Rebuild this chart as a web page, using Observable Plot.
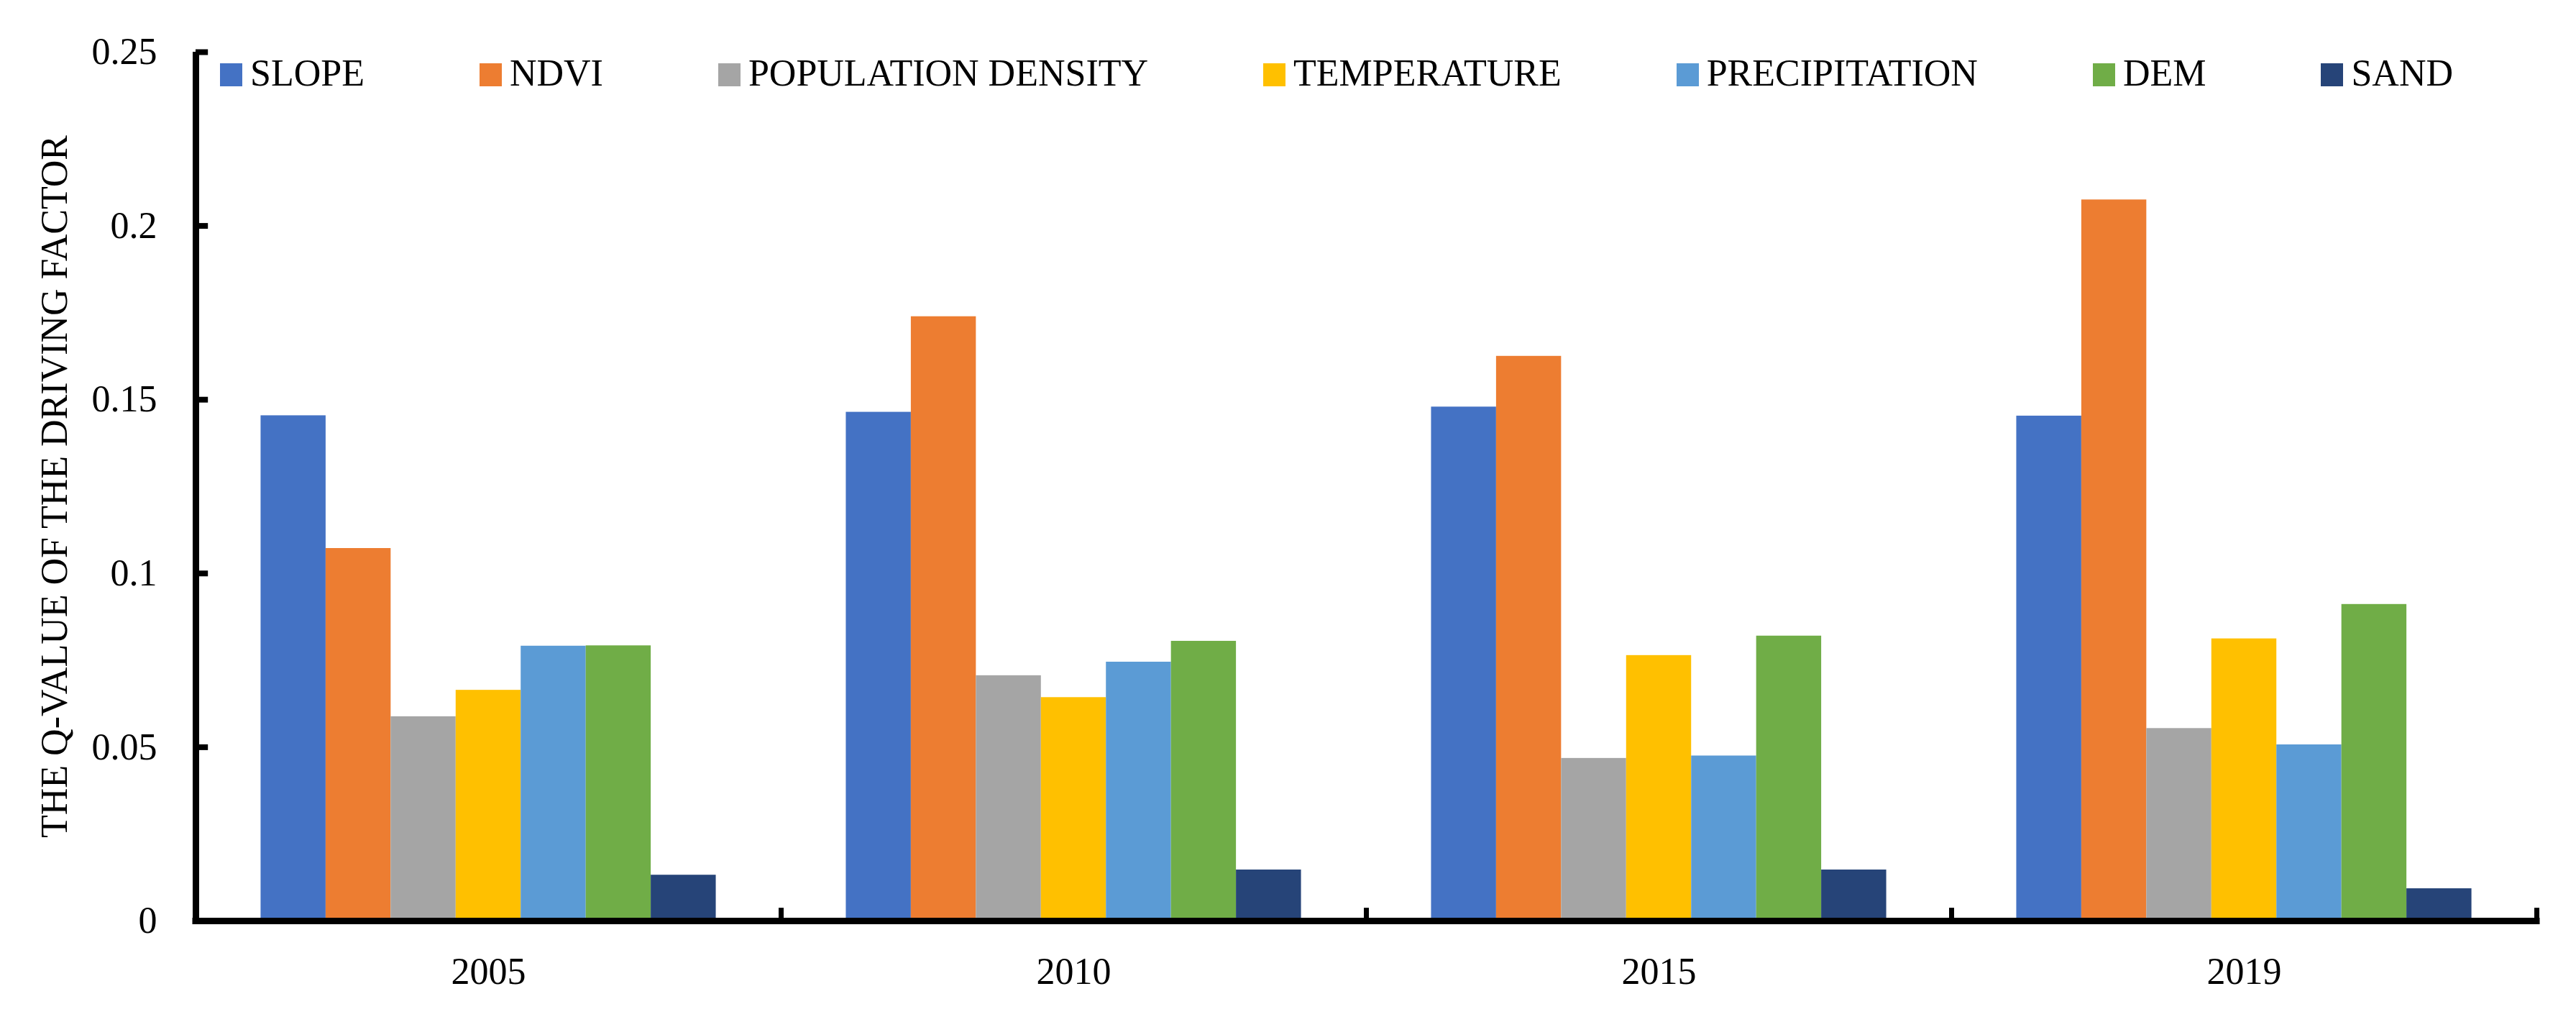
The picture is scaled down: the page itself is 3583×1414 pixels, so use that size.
<!DOCTYPE html>
<html>
<head>
<meta charset="utf-8">
<script src="https://cdn.jsdelivr.net/npm/d3@7"></script>
<script src="https://cdn.jsdelivr.net/npm/@observablehq/plot@0.6"></script>
<style>
  html, body { margin: 0; padding: 0; background: #fff; overflow: hidden; }
  #wrap { position: relative; width: 3583px; height: 1414px; }
  #legend {
    position: absolute; left: 306px; top: 76px;
    display: flex; align-items: center;
    font-family: "Liberation Serif", "Times New Roman", serif;
    font-size: 52px; line-height: 52px; color: #000; white-space: nowrap;
  }
  .item { display: flex; align-items: center; margin-right: 160px; }
  .item:last-child { margin-right: 0; }
  .sw { width: 31px; height: 32px; margin-right: 11px; position: relative; top: 2px; }
</style>
</head>
<body>
<div id="wrap"><div id="legend"></div></div>
<script>
const years = ["2005", "2010", "2015", "2019"];
const factors = ["SLOPE", "NDVI", "POPULATION DENSITY", "TEMPERATURE", "PRECIPITATION", "DEM", "SAND"];
const colors = ["#4472C4", "#ED7D31", "#A5A5A5", "#FFC000", "#5B9BD5", "#70AD47", "#264478"];

const slope         = [0.1454, 0.1464, 0.1479, 0.1453];
const ndvi          = [0.1072, 0.1739, 0.1625, 0.2075];
const popDensity    = [0.0588, 0.0706, 0.0468, 0.0554];
const temperature   = [0.0664, 0.0643, 0.0764, 0.0812];
const precipitation = [0.0791, 0.0745, 0.0475, 0.0507];
const dem           = [0.0792, 0.0805, 0.0820, 0.0911];
const sand          = [0.0132, 0.0147, 0.0147, 0.0093];

const yTicks = [0, 0.05, 0.1, 0.15, 0.2, 0.25];
const yLabel = "THE Q-VALUE OF THE DRIVING FACTOR";

const series = [slope, ndvi, popDensity, temperature, precipitation, dem, sand];
const rows = [];
years.forEach((year, yi) => {
  factors.forEach((factor, fi) => {
    rows.push({year, factor, index: fi, value: series[fi][yi]});
  });
});

// each year group is divided into (factors + 2) slots: one empty slot either side
const slots = factors.length + 2;
const font = "Liberation Serif";

const chart = Plot.plot({
  width: 3583,
  height: 1414,
  marginLeft: 272,
  marginRight: 55,
  marginTop: 72,
  marginBottom: 134,
  style: {fontFamily: font, color: "#000", background: "#fff"},
  fx: {domain: years, padding: 0, label: null},
  x: {domain: [0, slots], axis: null},
  y: {domain: [0, 0.25], axis: null},
  color: {domain: factors, range: colors},
  marks: [
    Plot.rect(rows, {
      fx: "year",
      x1: d => d.index + 1,
      x2: d => d.index + 2,
      y1: 0,
      y2: "value",
      fill: "factor"
    }),
    // baseline (x axis line)
    Plot.ruleY([0], {stroke: "#000", strokeWidth: 9, strokeLinecap: "square"}),
    // category boundary ticks
    Plot.ruleX([0], {y1: 0, y2: 0.0037, stroke: "#000", strokeWidth: 7}),
    Plot.ruleX([slots], {fx: () => years[years.length - 1], y1: 0, y2: 0.0037, stroke: "#000", strokeWidth: 7}),
    // y axis line and inward ticks
    Plot.ruleX([0], {fx: () => years[0], y1: 0, y2: yTicks[yTicks.length - 1], stroke: "#000", strokeWidth: 9}),
    Plot.ruleY(yTicks, {fx: () => years[0], y: d => d, x1: 0, x2: 0.19, stroke: "#000", strokeWidth: 8}),
    Plot.axisY({
      ticks: yTicks,
      tickSize: 0,
      tickPadding: 54,
      fontSize: 52,
      tickFormat: d => String(d),
      label: yLabel,
      labelAnchor: "center",
      labelOffset: 216,
      labelArrow: false
    }),
    Plot.axisFx({
      anchor: "bottom",
      tickSize: 0,
      tickPadding: 51,
      fontSize: 52,
      label: null
    })
  ]
});

document.getElementById("wrap").prepend(chart);
chart.style.position = "absolute";
chart.style.left = "0";
chart.style.top = "0";

const legend = document.getElementById("legend");
const cs = chart.scale("color");
cs.domain.forEach((name, i) => {
  const item = document.createElement("div");
  item.className = "item";
  const sw = document.createElement("div");
  sw.className = "sw";
  sw.style.background = cs.range[i];
  const t = document.createElement("span");
  t.textContent = name;
  item.append(sw, t);
  legend.append(item);
});
</script>
</body>
</html>
